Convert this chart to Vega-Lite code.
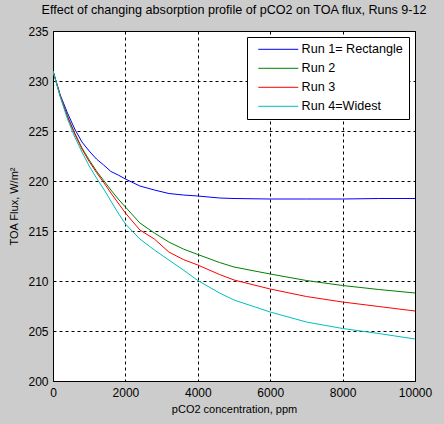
{
  "$schema": "https://vega.github.io/schema/vega-lite/v6.json",
  "width": 362,
  "height": 350,
  "autosize": {"type": "none"},
  "padding": {"left": 53, "top": 31, "right": 29, "bottom": 43},
  "background": "#cccccc",
  "config": {
    "font": "Liberation Sans",
    "view": {"fill": "white", "stroke": "black", "strokeWidth": 1},
    "axis": {
      "domain": false,
      "ticks": false,
      "grid": true,
      "gridColor": "black",
      "gridOpacity": 1,
      "gridDash": [3, 3],
      "gridWidth": 1,
      "labelFlush": false,
      "labelFontSize": 12,
      "labelColor": "black",
      "titleFontSize": 11,
      "titleFontWeight": "normal",
      "titleColor": "black"
    },
    "legend": {
      "orient": "top-right",
      "offset": 6,
      "padding": 6,
      "rowPadding": 6,
      "labelFontSize": 12.6,
      "labelColor": "black",
      "labelOffset": 36,
      "labelLimit": 300,
      "strokeColor": "black",
      "fillColor": "white",
      "symbolType": "M-0.2,0H7.8",
      "symbolSize": 100,
      "symbolOffset": 0,
      "symbolStrokeWidth": 1
    }
  },
  "title": {
    "text": "Effect of changing absorption profile of pCO2 on TOA flux, Runs 9-12",
    "fontSize": 12.6,
    "fontWeight": "normal",
    "color": "black",
    "anchor": "middle",
    "frame": "group",
    "offset": 8
  },
  "data": {
    "values": [
      {"run": "Run 1= Rectangle", "ppm": 0, "flux": 231.0},
      {"run": "Run 1= Rectangle", "ppm": 200, "flux": 228.6},
      {"run": "Run 1= Rectangle", "ppm": 400, "flux": 226.8},
      {"run": "Run 1= Rectangle", "ppm": 600, "flux": 225.2},
      {"run": "Run 1= Rectangle", "ppm": 800, "flux": 223.9},
      {"run": "Run 1= Rectangle", "ppm": 1000, "flux": 223.0},
      {"run": "Run 1= Rectangle", "ppm": 1200, "flux": 222.2},
      {"run": "Run 1= Rectangle", "ppm": 1400, "flux": 221.6},
      {"run": "Run 1= Rectangle", "ppm": 1600, "flux": 220.95},
      {"run": "Run 1= Rectangle", "ppm": 1800, "flux": 220.6},
      {"run": "Run 1= Rectangle", "ppm": 2000, "flux": 220.2},
      {"run": "Run 1= Rectangle", "ppm": 2400, "flux": 219.5},
      {"run": "Run 1= Rectangle", "ppm": 2800, "flux": 219.1},
      {"run": "Run 1= Rectangle", "ppm": 3200, "flux": 218.75},
      {"run": "Run 1= Rectangle", "ppm": 3600, "flux": 218.6},
      {"run": "Run 1= Rectangle", "ppm": 4000, "flux": 218.5},
      {"run": "Run 1= Rectangle", "ppm": 4600, "flux": 218.3},
      {"run": "Run 1= Rectangle", "ppm": 5000, "flux": 218.25},
      {"run": "Run 1= Rectangle", "ppm": 6000, "flux": 218.2},
      {"run": "Run 1= Rectangle", "ppm": 7000, "flux": 218.2},
      {"run": "Run 1= Rectangle", "ppm": 8000, "flux": 218.2},
      {"run": "Run 1= Rectangle", "ppm": 9000, "flux": 218.25},
      {"run": "Run 1= Rectangle", "ppm": 10000, "flux": 218.25},
      {"run": "Run 2", "ppm": 0, "flux": 231.0},
      {"run": "Run 2", "ppm": 200, "flux": 228.5},
      {"run": "Run 2", "ppm": 400, "flux": 226.5},
      {"run": "Run 2", "ppm": 600, "flux": 224.8},
      {"run": "Run 2", "ppm": 800, "flux": 223.3},
      {"run": "Run 2", "ppm": 1000, "flux": 222.1},
      {"run": "Run 2", "ppm": 1200, "flux": 221.0},
      {"run": "Run 2", "ppm": 1400, "flux": 220.05},
      {"run": "Run 2", "ppm": 1600, "flux": 219.1},
      {"run": "Run 2", "ppm": 1800, "flux": 218.2},
      {"run": "Run 2", "ppm": 2000, "flux": 217.4},
      {"run": "Run 2", "ppm": 2400, "flux": 215.8},
      {"run": "Run 2", "ppm": 2800, "flux": 214.8},
      {"run": "Run 2", "ppm": 3200, "flux": 213.9},
      {"run": "Run 2", "ppm": 3600, "flux": 213.2},
      {"run": "Run 2", "ppm": 4000, "flux": 212.65},
      {"run": "Run 2", "ppm": 4600, "flux": 211.85},
      {"run": "Run 2", "ppm": 5000, "flux": 211.4},
      {"run": "Run 2", "ppm": 6000, "flux": 210.7},
      {"run": "Run 2", "ppm": 7000, "flux": 210.05},
      {"run": "Run 2", "ppm": 8000, "flux": 209.55},
      {"run": "Run 2", "ppm": 9000, "flux": 209.15},
      {"run": "Run 2", "ppm": 10000, "flux": 208.8},
      {"run": "Run 3", "ppm": 0, "flux": 231.0},
      {"run": "Run 3", "ppm": 200, "flux": 228.5},
      {"run": "Run 3", "ppm": 400, "flux": 226.4},
      {"run": "Run 3", "ppm": 600, "flux": 224.7},
      {"run": "Run 3", "ppm": 800, "flux": 223.2},
      {"run": "Run 3", "ppm": 1000, "flux": 221.95},
      {"run": "Run 3", "ppm": 1200, "flux": 220.85},
      {"run": "Run 3", "ppm": 1400, "flux": 219.85},
      {"run": "Run 3", "ppm": 1600, "flux": 218.8},
      {"run": "Run 3", "ppm": 1800, "flux": 217.8},
      {"run": "Run 3", "ppm": 2000, "flux": 216.8},
      {"run": "Run 3", "ppm": 2400, "flux": 215.1},
      {"run": "Run 3", "ppm": 2800, "flux": 214.2},
      {"run": "Run 3", "ppm": 3200, "flux": 212.9},
      {"run": "Run 3", "ppm": 3600, "flux": 212.15},
      {"run": "Run 3", "ppm": 4000, "flux": 211.6},
      {"run": "Run 3", "ppm": 4600, "flux": 210.65},
      {"run": "Run 3", "ppm": 5000, "flux": 210.1},
      {"run": "Run 3", "ppm": 6000, "flux": 209.2},
      {"run": "Run 3", "ppm": 7000, "flux": 208.45},
      {"run": "Run 3", "ppm": 8000, "flux": 207.9},
      {"run": "Run 3", "ppm": 9000, "flux": 207.45},
      {"run": "Run 3", "ppm": 10000, "flux": 207.0},
      {"run": "Run 4=Widest", "ppm": 0, "flux": 231.0},
      {"run": "Run 4=Widest", "ppm": 200, "flux": 228.4},
      {"run": "Run 4=Widest", "ppm": 400, "flux": 226.2},
      {"run": "Run 4=Widest", "ppm": 600, "flux": 224.4},
      {"run": "Run 4=Widest", "ppm": 800, "flux": 222.9},
      {"run": "Run 4=Widest", "ppm": 1000, "flux": 221.5},
      {"run": "Run 4=Widest", "ppm": 1200, "flux": 220.3},
      {"run": "Run 4=Widest", "ppm": 1400, "flux": 219.2},
      {"run": "Run 4=Widest", "ppm": 1600, "flux": 218.0},
      {"run": "Run 4=Widest", "ppm": 1800, "flux": 216.8},
      {"run": "Run 4=Widest", "ppm": 2000, "flux": 215.7},
      {"run": "Run 4=Widest", "ppm": 2400, "flux": 214.2},
      {"run": "Run 4=Widest", "ppm": 2800, "flux": 213.1},
      {"run": "Run 4=Widest", "ppm": 3200, "flux": 212.1},
      {"run": "Run 4=Widest", "ppm": 3600, "flux": 211.1},
      {"run": "Run 4=Widest", "ppm": 4000, "flux": 210.05},
      {"run": "Run 4=Widest", "ppm": 4600, "flux": 208.8},
      {"run": "Run 4=Widest", "ppm": 5000, "flux": 208.1},
      {"run": "Run 4=Widest", "ppm": 6000, "flux": 206.9},
      {"run": "Run 4=Widest", "ppm": 7000, "flux": 205.9},
      {"run": "Run 4=Widest", "ppm": 8000, "flux": 205.25},
      {"run": "Run 4=Widest", "ppm": 9000, "flux": 204.75},
      {"run": "Run 4=Widest", "ppm": 10000, "flux": 204.2}
    ]
  },
  "mark": {"type": "line", "strokeWidth": 1, "clip": true},
  "encoding": {
    "x": {
      "field": "ppm",
      "type": "quantitative",
      "scale": {"domain": [0, 10000], "nice": false, "zero": false},
      "axis": {
        "values": [0, 2000, 4000, 6000, 8000, 10000],
        "format": "d",
        "title": "pCO2 concentration, ppm",
        "labelPadding": 6,
        "titlePadding": 5
      }
    },
    "y": {
      "field": "flux",
      "type": "quantitative",
      "scale": {"domain": [200, 235], "nice": false, "zero": false},
      "axis": {
        "values": [200, 205, 210, 215, 220, 225, 230, 235],
        "format": "d",
        "title": "TOA Flux, W/m²",
        "labelPadding": 5,
        "titlePadding": 8
      }
    },
    "color": {
      "field": "run",
      "type": "nominal",
      "scale": {
        "domain": ["Run 1= Rectangle", "Run 2", "Run 3", "Run 4=Widest"],
        "range": ["#0000ff", "#008000", "#ff0000", "#00bfbf"]
      },
      "legend": {"title": null}
    }
  }
}
